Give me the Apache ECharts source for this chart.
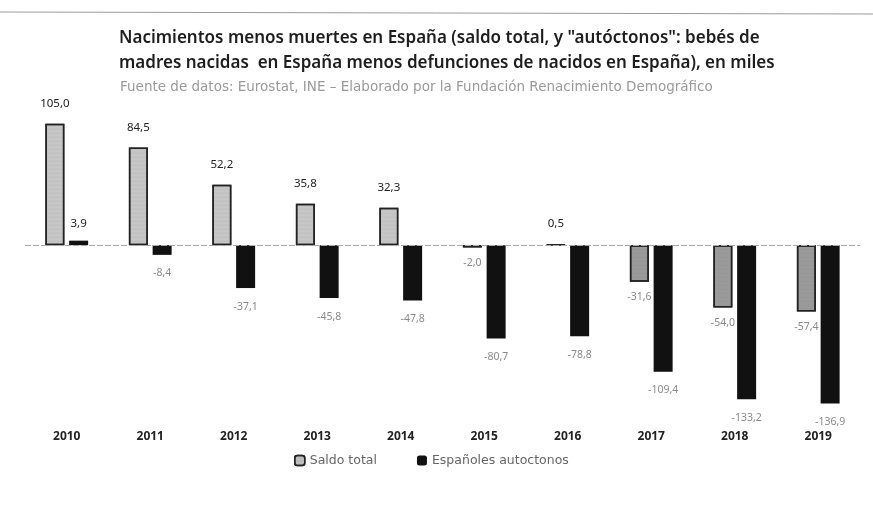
<!DOCTYPE html>
<html>
<head>
<meta charset="utf-8">
<script src="https://cdn.jsdelivr.net/npm/echarts@6/dist/echarts.min.js"></script>
<style>
  html, body { margin: 0; padding: 0; background: #fff; }
  #chart { width: 873px; height: 520px; }
</style>
</head>
<body>
<div id="chart"></div>
<script>
var years = ['2010', '2011', '2012', '2013', '2014', '2015', '2016', '2017', '2018', '2019'];
var saldoTotal = [105.0, 84.5, 52.2, 35.8, 32.3, -2.0, 0.5, -31.6, -54.0, -57.4];
var autoctonos = [3.9, -8.4, -37.1, -45.8, -47.8, -80.7, -78.8, -109.4, -133.2, -136.9];

var chart = echarts.init(document.getElementById('chart'));

function fmt(v) {
  return v.toFixed(1).replace('.', ',');
}

// positives above the bar, negatives below it
function withLabels(values, posDist, negDist) {
  return values.map(function (v) {
    return {
      value: v,
      label: v < 0
        ? { position: 'bottom', distance: negDist, color: '#8a8a8a', fontSize: 10.5 }
        : { position: 'top', distance: posDist, color: '#222', fontSize: 11.5 }
    };
  });
}

var option = {
  backgroundColor: '#ffffff',
  animation: false,
  textStyle: { fontFamily: 'Noto Sans' },
  title: [{
    text: 'Nacimientos menos muertes en España (saldo total, y "autóctonos": bebés de\nmadres nacidas  en España menos defunciones de nacidos en España), en miles',
    left: 114,
    top: 21,
    textStyle: { fontSize: 17, fontWeight: 600, color: '#1e1e1e', lineHeight: 25 }
  }, {
    text: 'Fuente de datos: Eurostat, INE – Elaborado por la Fundación Renacimiento Demográfico',
    left: 115,
    top: 75,
    textStyle: { fontFamily: 'DejaVu Sans', fontSize: 13.5, fontWeight: 'normal', color: '#9a9a9a' }
  }],
  graphic: [{
    type: 'line',
    shape: { x1: 0, y1: 12, x2: 873, y2: 14 },
    style: { stroke: '#999', lineWidth: 1 }
  }],
  legend: {
    bottom: 48,
    left: 289,
    itemWidth: 10,
    itemHeight: 10,
    itemGap: 40,
    textStyle: { fontFamily: 'DejaVu Sans', fontSize: 12.5, color: '#666' },
    data: [
      { name: 'Saldo total', itemStyle: { color: '#bdbdbd', borderColor: '#222', borderWidth: 1.5 } },
      { name: 'Españoles autoctonos', itemStyle: { color: '#111' } }
    ]
  },
  grid: { left: 25, right: 13, top: 118, bottom: 113, containLabel: false },
  xAxis: {
    type: 'category',
    data: years,
    axisLine: { show: false },
    axisTick: { show: false },
    axisLabel: { margin: 24, fontSize: 12, fontWeight: 'bold', color: '#222' }
  },
  yAxis: {
    type: 'value',
    min: -140,
    max: 110,
    show: false,
    splitLine: { show: false }
  },
  series: [{
    name: 'Saldo total',
    type: 'bar',
    data: withLabels(saldoTotal, 14, 10),
    barWidth: 19,
    barGap: '25%',
    itemStyle: {
      color: function (p) { return p.value < 0 ? '#9a9a9a' : '#c6c6c6'; },
      borderColor: '#222',
      borderWidth: 1.5,
      decal: { symbol: 'circle', symbolSize: 0.5, color: 'rgba(90,90,90,0.35)', dashArrayX: [1, 0], dashArrayY: [2, 2] }
    },
    label: { show: true, formatter: function (p) { return fmt(p.value); } },
    markLine: {
      silent: true,
      symbol: 'none',
      label: { show: false },
      lineStyle: { color: '#aaa', type: [6, 2], width: 1 },
      data: [{ yAxis: 0 }]
    }
  }, {
    name: 'Españoles autoctonos',
    type: 'bar',
    data: withLabels(autoctonos, 11, 13),
    barWidth: 19,
    itemStyle: { color: '#111' },
    label: { show: true, formatter: function (p) { return fmt(p.value); } }
  }]
};

chart.setOption(option);
</script>
</body>
</html>
